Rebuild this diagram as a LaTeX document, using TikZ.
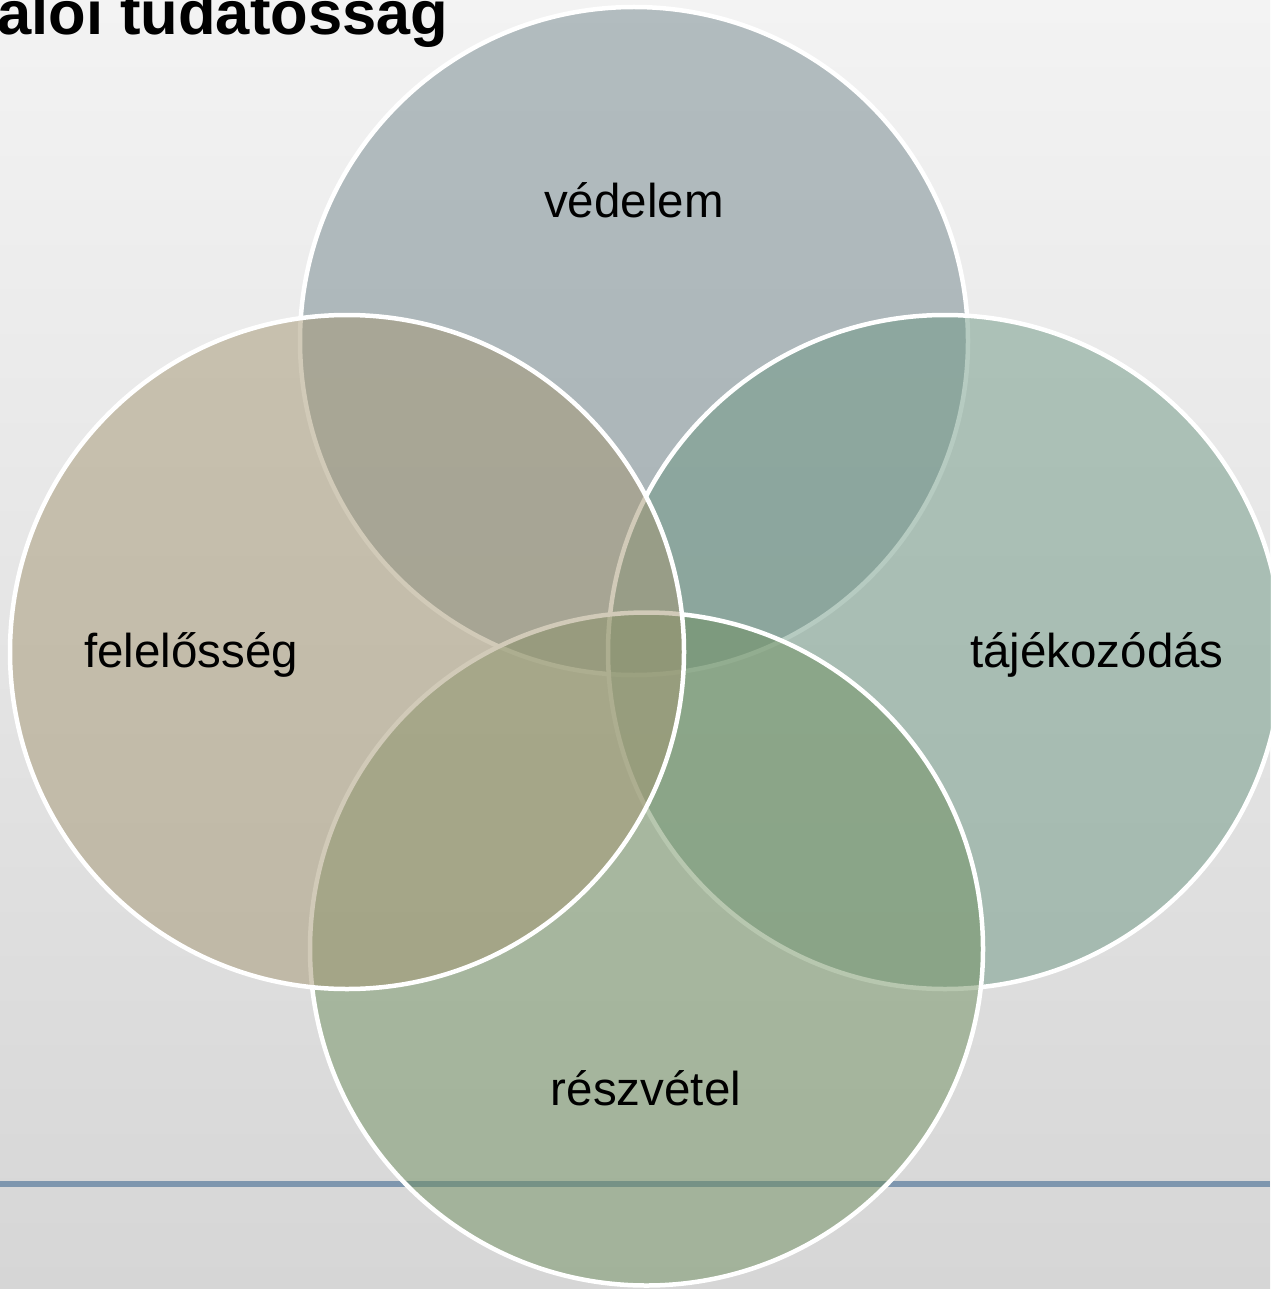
\documentclass[tikz,border=0pt]{standalone}
\usepackage{fontspec}
\setmainfont{Liberation Sans}
\definecolor{bgtop}{RGB}{243,243,243}
\definecolor{bgbot}{RGB}{214,214,214}
\definecolor{lineblue}{RGB}{126,150,174}
\definecolor{ctop}{RGB}{114,134,140}
\definecolor{cleft}{RGB}{164,150,114}
\definecolor{cright}{RGB}{110,152,132}
\definecolor{cbot}{RGB}{112,144,96}
\tikzset{
  venn/.style={circle, draw=white, line width=4.5pt, fill opacity=0.5, draw opacity=1, inner sep=0pt, outer sep=0pt},
  lbl/.style={font=\fontsize{47.5}{56}\selectfont, text=black, anchor=base, inner sep=0pt},
}
\begin{document}
\begin{tikzpicture}[x=1pt,y=-1pt]
\useasboundingbox (0,0) rectangle (1270,1289);
\shade[top color=bgtop, bottom color=bgbot] (0,0) rectangle (1270,1289);
\node[font=\fontsize{61.5}{70}\selectfont\bfseries, anchor=base west, inner sep=0pt] (title) at (-3,35) {alói tudatosság};
\coordinate (lineL) at (0,1184);
\coordinate (lineR) at (1270,1184);
\draw[line width=5.5pt, lineblue] (lineL) -- (lineR);
\node[venn, fill=ctop, minimum size=668pt] (top) at (634,341) {};
\node[venn, fill=cright, minimum size=674pt] (right) at (945,652) {};
\node[venn, fill=cbot, minimum size=673pt] (bottom) at (646.5,949) {};
\node[venn, fill=cleft, minimum size=674pt] (left) at (347,652) {};
\node[lbl] (l1) at (634,218) {védelem};
\node[lbl] (l2) at (191,667) {felelősség};
\node[lbl] (l3) at (1097,667) {tájékozódás};
\node[lbl] (l4) at (646,1105) {részvétel};
\end{tikzpicture}
\end{document}
